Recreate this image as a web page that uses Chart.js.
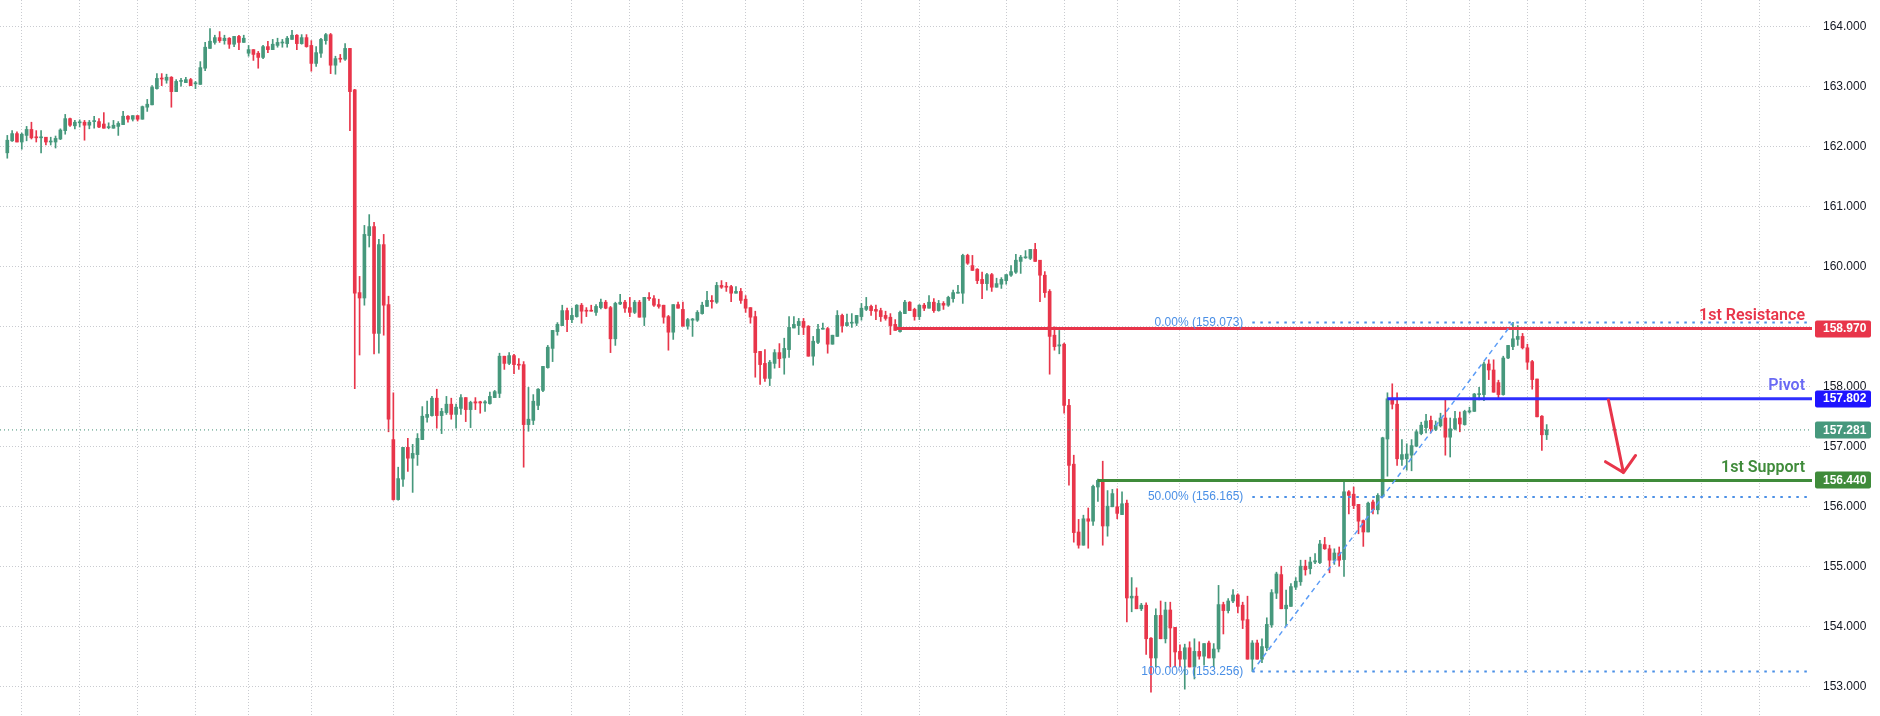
<!DOCTYPE html>
<html><head><meta charset="utf-8">
<script src="https://cdn.jsdelivr.net/npm/chart.js@4.4.1/dist/chart.umd.min.js"></script>
<style>html,body{margin:0;padding:0;background:#fff;}canvas{display:block}</style>
</head><body>
<canvas id="c" width="1880" height="716"></canvas>
<script>
const opens = [
161.90,162.10,162.22,162.08,162.19,162.29,162.16,162.15,162.16,162.08,
162.08,162.13,162.27,162.47,162.35,162.40,162.41,162.36,162.42,162.42,
162.38,162.32,162.31,162.34,162.37,162.51,162.46,162.52,162.46,162.66,
162.70,162.97,163.14,163.11,163.16,162.92,163.09,163.07,163.12,163.05,
163.04,163.31,163.64,163.74,163.82,163.77,163.81,163.71,163.84,163.74,
163.56,163.62,163.56,163.49,163.67,163.62,163.69,163.73,163.72,163.79,
163.86,163.72,163.82,163.69,163.39,163.56,163.77,163.87,163.36,163.47,
163.46,163.64,162.95,159.57,159.48,160.52,160.67,158.89,160.37,159.37,
157.12,156.12,156.46,156.99,156.81,156.87,157.12,157.49,157.52,157.81,
157.52,157.57,157.71,157.54,157.64,157.82,157.62,157.75,157.75,157.73,
157.72,157.82,157.89,158.51,158.39,158.52,158.37,158.37,157.37,157.44,
157.69,157.94,158.32,158.64,158.92,159.02,159.27,159.12,159.17,159.36,
159.27,159.27,159.24,159.32,159.41,159.32,158.80,159.38,159.41,159.32,
159.24,159.41,159.16,159.49,159.47,159.37,159.36,159.17,158.91,159.37,
159.29,159.01,159.11,159.11,159.22,159.34,159.44,159.41,159.69,159.67,
159.67,159.56,159.59,159.46,159.32,159.17,158.59,158.39,158.14,158.39,
158.57,158.48,158.62,158.98,159.02,159.09,159.01,158.51,158.74,158.96,
158.97,158.71,158.84,159.19,159.02,159.06,159.06,159.17,159.29,159.34,
159.29,159.27,159.19,159.16,159.04,158.92,159.22,159.41,159.29,159.17,
159.36,159.31,159.41,159.27,159.39,159.36,159.47,159.56,159.56,160.19,
160.02,159.96,159.79,159.72,159.87,159.66,159.71,159.77,159.86,159.91,
160.09,160.15,160.14,160.29,160.11,159.86,159.59,158.86,158.68,158.71,
157.69,156.71,155.58,155.36,155.80,155.76,156.33,156.44,155.68,156.00,
156.00,155.87,156.06,154.48,154.51,154.30,154.36,153.81,153.48,154.19,
153.80,154.28,153.99,153.59,153.46,153.65,153.33,153.59,153.51,153.73,
153.48,153.63,154.37,154.27,154.43,154.53,154.36,154.12,153.46,153.73,
153.46,153.65,154.03,154.56,154.87,154.30,154.34,154.66,154.75,155.01,
154.97,155.08,155.07,155.37,155.30,155.11,155.23,155.12,156.25,156.21,
156.04,155.77,155.58,156.08,155.95,156.17,157.13,157.80,157.71,156.79,
156.80,156.86,157.01,157.22,157.32,157.44,157.29,157.35,157.48,157.16,
157.30,157.48,157.37,157.58,157.59,157.87,157.87,158.38,158.28,158.07,
157.87,158.48,158.67,158.79,158.84,158.65,158.42,158.13,157.51,157.20];
const highs = [
162.19,162.27,162.25,162.23,162.34,162.41,162.27,162.27,162.16,162.16,
162.18,162.30,162.54,162.48,162.44,162.45,162.44,162.44,162.51,162.47,
162.57,162.40,162.44,162.42,162.59,162.52,162.52,162.52,162.68,162.79,
163.02,163.22,163.22,163.21,163.17,163.12,163.14,163.16,163.14,163.09,
163.42,163.74,163.97,163.86,163.92,163.86,163.82,163.84,163.86,163.86,
163.69,163.62,163.59,163.69,163.76,163.79,163.81,163.79,163.84,163.94,
163.87,163.87,163.87,163.77,163.67,163.81,163.89,163.89,163.51,163.54,
163.72,163.64,162.96,159.84,160.69,160.87,160.74,160.46,160.54,159.51,
157.90,156.66,156.99,157.14,157.04,157.22,157.67,157.76,157.84,157.96,
157.64,157.84,157.81,157.71,157.87,157.82,157.76,157.82,157.76,157.77,
157.91,157.94,158.56,158.51,158.57,158.54,158.47,158.42,157.99,157.87,
157.97,158.34,158.69,158.94,159.07,159.36,159.31,159.31,159.37,159.39,
159.32,159.36,159.37,159.46,159.44,159.34,159.41,159.54,159.44,159.49,
159.44,159.44,159.49,159.57,159.52,159.46,159.36,159.19,159.37,159.41,
159.41,159.14,159.14,159.27,159.41,159.59,159.52,159.74,159.77,159.74,
159.69,159.67,159.64,159.52,159.32,159.26,158.59,158.62,158.44,158.62,
158.72,158.81,159.17,159.17,159.14,159.14,159.02,158.84,159.04,159.06,
158.99,158.86,159.27,159.21,159.21,159.22,159.19,159.39,159.49,159.36,
159.36,159.31,159.26,159.22,159.12,159.26,159.44,159.42,159.31,159.37,
159.39,159.52,159.47,159.44,159.42,159.51,159.61,159.69,160.21,160.21,
160.19,159.97,159.91,159.89,159.89,159.81,159.82,159.87,160.02,160.21,
160.19,160.27,160.29,160.39,160.11,159.92,159.62,159.00,158.94,158.73,
157.79,156.86,155.79,155.86,155.98,156.36,156.46,156.76,156.27,156.29,
156.30,156.25,156.11,154.82,154.65,154.39,154.40,153.82,154.30,154.43,
154.41,154.41,153.99,153.70,153.71,153.75,153.80,153.75,153.72,153.76,
153.72,154.69,154.41,154.47,154.62,154.55,154.41,154.51,153.77,153.78,
153.80,154.15,154.62,154.91,155.01,154.61,154.72,154.82,155.11,155.11,
155.16,155.22,155.44,155.49,155.36,155.30,155.33,156.41,156.27,156.33,
156.04,155.78,156.08,156.11,156.22,157.16,157.90,158.05,157.90,157.12,
157.05,157.12,157.28,157.41,157.54,157.51,157.43,157.56,157.78,157.48,
157.59,157.58,157.61,157.66,157.89,157.99,158.41,158.45,158.45,158.11,
158.51,158.69,159.073,159.02,158.89,158.71,158.44,158.13,157.52,157.37];
const lows = [
161.81,162.09,162.08,161.96,162.10,162.13,162.08,161.90,162.03,162.03,
161.98,162.12,162.21,162.34,162.30,162.33,162.11,162.30,162.31,162.32,
162.31,162.30,162.31,162.19,162.37,162.41,162.43,162.43,162.46,162.59,
162.70,162.96,163.02,163.06,162.66,162.92,163.01,163.07,163.02,162.97,
163.04,163.27,163.64,163.71,163.74,163.71,163.64,163.67,163.62,163.74,
163.51,163.44,163.31,163.47,163.57,163.62,163.66,163.66,163.66,163.79,
163.62,163.71,163.66,163.26,163.34,163.49,163.71,163.22,163.21,163.41,
163.44,162.27,157.97,158.53,159.36,160.33,158.55,158.56,158.86,157.25,
156.11,156.11,156.34,156.59,156.24,156.69,157.12,157.41,157.51,157.31,
157.22,157.54,157.46,157.31,157.54,157.42,157.32,157.62,157.56,157.59,
157.71,157.82,157.82,158.29,158.37,158.22,158.29,156.66,157.26,157.37,
157.62,157.92,158.31,158.42,158.86,159.02,158.92,159.07,159.16,159.06,
159.17,159.26,159.19,159.30,159.30,158.57,158.69,159.37,159.24,159.17,
159.22,159.16,159.02,159.44,159.34,159.31,159.06,158.61,158.79,159.31,
159.01,158.96,158.84,159.09,159.21,159.34,159.31,159.39,159.64,159.59,
159.42,159.56,159.39,159.24,159.06,158.16,158.04,158.09,158.02,158.31,
158.32,158.21,158.49,158.98,158.87,158.87,158.51,158.36,158.72,158.96,
158.56,158.71,158.84,158.91,159.01,158.99,159.02,159.11,159.27,159.19,
159.12,159.09,159.11,158.87,158.94,158.91,159.22,159.27,159.11,159.12,
159.27,159.31,159.24,159.26,159.29,159.34,159.41,159.56,159.39,160.04,
159.94,159.72,159.47,159.61,159.59,159.66,159.64,159.71,159.84,159.89,
159.89,160.14,160.12,160.09,159.42,159.49,158.21,158.61,158.55,157.56,
156.36,155.41,155.31,155.36,155.31,155.69,156.09,155.36,155.51,156.00,
155.80,155.87,154.08,154.25,154.30,154.27,153.54,152.91,153.33,153.80,
153.73,153.33,153.33,153.33,152.96,153.33,153.13,153.46,153.36,153.48,
153.33,153.58,153.88,154.23,154.40,154.23,153.97,153.46,153.256,153.46,
153.40,153.60,153.99,154.47,154.30,154.02,154.34,154.62,154.69,154.86,
154.88,155.05,155.05,155.29,154.90,155.04,155.01,154.84,155.88,155.97,
155.55,155.34,155.58,155.88,155.88,156.16,156.51,157.63,156.69,156.69,
156.61,156.60,157.00,157.20,157.23,157.23,157.27,157.33,156.86,156.83,
157.28,157.25,157.36,157.56,157.59,157.78,157.77,158.12,157.91,157.79,
157.86,158.47,158.62,158.69,158.63,158.29,157.96,157.50,156.94,157.12];
const closes = [
162.11,162.22,162.08,162.21,162.29,162.15,162.15,162.16,162.08,162.09,
162.14,162.28,162.47,162.36,162.41,162.41,162.36,162.41,162.43,162.33,
162.31,162.33,162.36,162.39,162.51,162.46,162.52,162.46,162.67,162.71,
162.99,163.14,163.13,163.16,162.92,163.09,163.10,163.12,163.02,163.06,
163.32,163.66,163.76,163.82,163.77,163.81,163.71,163.84,163.74,163.81,
163.62,163.54,163.49,163.67,163.62,163.71,163.74,163.74,163.81,163.86,
163.72,163.82,163.67,163.39,163.57,163.79,163.87,163.36,163.47,163.46,
163.64,162.92,159.56,159.48,160.54,160.67,158.89,160.37,159.36,157.46,
156.12,156.47,156.99,156.81,156.89,157.14,157.51,157.54,157.81,157.52,
157.59,157.71,157.54,157.66,157.82,157.62,157.74,157.73,157.73,157.75,
157.84,157.92,158.51,158.39,158.52,158.37,158.36,157.37,157.46,157.76,
157.96,158.34,158.66,158.94,159.04,159.27,159.12,159.19,159.36,159.26,
159.26,159.26,159.34,159.41,159.31,158.80,159.39,159.41,159.31,159.24,
159.41,159.16,159.49,159.47,159.36,159.34,159.16,158.91,159.37,159.31,
159.01,159.12,159.13,159.24,159.36,159.44,159.42,159.69,159.66,159.66,
159.56,159.59,159.44,159.31,159.16,158.57,158.37,158.14,158.41,158.57,
158.47,158.64,158.99,159.04,159.09,158.99,158.51,158.76,158.96,158.97,
158.71,158.86,159.19,159.02,159.07,159.07,159.19,159.31,159.34,159.27,
159.26,159.17,159.14,159.02,158.94,159.24,159.41,159.27,159.17,159.36,
159.31,159.41,159.27,159.39,159.36,159.49,159.57,159.57,160.19,160.06,
159.94,159.77,159.72,159.87,159.66,159.72,159.79,159.87,159.92,160.11,
160.16,160.16,160.29,160.09,159.86,159.57,158.84,158.67,158.70,157.69,
156.69,155.57,155.36,155.80,155.76,156.34,156.44,155.68,156.01,156.22,
155.89,156.05,154.48,154.51,154.30,154.36,153.80,153.48,154.19,153.80,
154.28,153.98,153.58,153.46,153.65,153.33,153.59,153.51,153.72,153.48,
153.63,154.37,154.27,154.43,154.53,154.34,154.11,153.46,153.73,153.46,
153.67,154.04,154.57,154.88,154.30,154.36,154.67,154.76,155.01,154.95,
155.08,155.10,155.38,155.30,155.11,155.23,155.11,156.25,156.19,156.02,
155.76,155.58,156.06,155.95,156.19,157.15,157.80,157.71,156.80,156.87,
156.88,157.02,157.25,157.36,157.43,157.30,157.36,157.48,157.16,157.30,
157.47,157.38,157.59,157.60,157.88,157.88,158.38,158.28,157.91,157.87,
158.48,158.69,158.80,158.84,158.65,158.41,158.12,157.50,157.20,157.281];

const yTickValues = [153,154,155,156,157,158,159,160,161,162,163,164];
const gridBars = [3,15,27,39,50,63,80,93,105,117,129,140,153,165,177,189,207,219,230,243,255,267,279,290,303,315,327,339,351,363];

const levelNames  = ['1st Resistance','Pivot','1st Support'];
const levelValues = [158.970,157.802,156.440];
const levelStartBar = [184,286,226];

const fibNames  = ['0.00%','50.00%','100.00%'];
const fibValues = [159.073,156.165,153.256];
const fibStartBar = 258;
const trendBars = [258,312];
const trendValues = [153.256,159.073];

const lastPrice = 157.281;
const arrowBars = [331.8,334.9];
const arrowValues = [157.78,156.57];

const X_MIN = -1.513, X_MAX = 373.98, Y_MIN = 152.513, Y_MAX = 164.447;
const GREEN = '#46987c', RED = '#e8354a';
const LEVEL_LINE = ['#e8354a','#2f2fff','#3f8b3a'];
const LEVEL_TEXT = ['#e8354a','#6a6af4','#3f8b3a'];
const LEVEL_BOX  = ['#e8354a','#1e14ff','#3f8b3a'];
const PRICE_BOX = '#46987c';
const FIB = '#4a8fe6';
const GRID = '#c9cbd0';

const bars = opens.map((_, i) => i);
const upOf = i => closes[i] >= opens[i];
const colorOf = ctx => upOf(ctx.dataIndex) ? GREEN : RED;

const lineDs = (pts, color, width, dash) => ({
  type: 'line', data: pts, borderColor: color, borderWidth: width, borderDash: dash || [],
  pointRadius: 0, fill: false, tension: 0, order: 0, parsing: false
});

const datasets = [];
datasets.push(lineDs([{x: X_MIN, y: lastPrice}, {x: X_MAX, y: lastPrice}], '#3f8f74', 1, [1, 3]));
fibValues.forEach(v => datasets.push(lineDs([{x: fibStartBar, y: v}, {x: X_MAX, y: v}], FIB, 2, [2.5, 5.5])));
datasets.push(lineDs([{x: trendBars[0], y: trendValues[0]}, {x: trendBars[1], y: trendValues[1]}], '#5b9cf6', 1.5, [5, 4]));
levelValues.forEach((v, k) => datasets.push(lineDs([{x: levelStartBar[k], y: v}, {x: X_MAX, y: v}], LEVEL_LINE[k], 3)));
datasets.push({
  type: 'bar', data: bars.map(i => ({x: i, y: [opens[i], closes[i]]})),
  backgroundColor: colorOf, barThickness: 3, minBarLength: 1, grouped: false, order: 5, borderWidth: 0
});
datasets.push({
  type: 'bar', data: bars.map(i => ({x: i, y: [lows[i], highs[i]]})),
  backgroundColor: colorOf, barThickness: 1, minBarLength: 1, grouped: false, order: 6, borderWidth: 0
});

const annot = {
  id: 'annot',
  afterDatasetsDraw(chart) {
    const {ctx, chartArea: a, scales: {x, y}} = chart;
    ctx.save();
    ctx.font = '12px "Liberation Sans", Arial, sans-serif';
    ctx.fillStyle = FIB; ctx.textAlign = 'right'; ctx.textBaseline = 'middle';
    fibNames.forEach((n, k) => {
      ctx.fillText(n + ' (' + fibValues[k].toFixed(3) + ')', x.getPixelForValue(fibStartBar) - 9, y.getPixelForValue(fibValues[k]));
    });
    ctx.font = '600 16px Roboto, "Liberation Sans", sans-serif';
    ctx.textBaseline = 'alphabetic';
    levelNames.forEach((n, k) => {
      ctx.fillStyle = LEVEL_TEXT[k];
      ctx.fillText(n, a.right - 7, y.getPixelForValue(levelValues[k]) - 8.5);
    });
    const x0 = x.getPixelForValue(arrowBars[0]), y0 = y.getPixelForValue(arrowValues[0]);
    const x1 = x.getPixelForValue(arrowBars[1]), y1 = y.getPixelForValue(arrowValues[1]);
    const ang = Math.atan2(y1 - y0, x1 - x0), L = 21, sp = 47 * Math.PI / 180;
    ctx.strokeStyle = RED; ctx.lineWidth = 3; ctx.lineCap = 'round'; ctx.lineJoin = 'round';
    ctx.beginPath();
    ctx.moveTo(x0, y0); ctx.lineTo(x1, y1);
    ctx.moveTo(x1 - L * Math.cos(ang - sp), y1 - L * Math.sin(ang - sp));
    ctx.lineTo(x1, y1);
    ctx.lineTo(x1 - L * Math.cos(ang + sp), y1 - L * Math.sin(ang + sp));
    ctx.stroke();
    ctx.restore();
  },
  afterDraw(chart) {
    const {ctx, chartArea: a, scales: {y}} = chart;
    ctx.save();
    const box = (v, bg) => {
      const cy = y.getPixelForValue(v);
      ctx.fillStyle = bg;
      ctx.beginPath();
      ctx.roundRect(a.right + 3, Math.round(cy) - 8.5, 56, 17, 2);
      ctx.fill();
      ctx.fillStyle = '#ffffff';
      ctx.font = '600 12px "Liberation Sans", Arial, sans-serif';
      ctx.textAlign = 'left'; ctx.textBaseline = 'middle';
      ctx.fillText(v.toFixed(3), a.right + 11, cy + 0.5);
    };
    box(levelValues[0], LEVEL_BOX[0]);
    box(levelValues[1], LEVEL_BOX[1]);
    box(lastPrice, PRICE_BOX);
    box(levelValues[2], LEVEL_BOX[2]);
    ctx.restore();
  }
};

new Chart(document.getElementById('c'), {
  type: 'bar',
  data: {datasets},
  options: {
    responsive: false, animation: false, devicePixelRatio: 1,
    layout: {padding: 0},
    plugins: {legend: {display: false}, tooltip: {enabled: false}},
    scales: {
      x: {
        type: 'linear', min: X_MIN, max: X_MAX, offset: false,
        afterBuildTicks: s => { s.ticks = gridBars.map(v => ({value: v})); },
        ticks: {display: false},
        grid: {color: GRID, drawTicks: false, offset: false, lineWidth: 1},
        border: {display: false, dash: [1, 2]},
        afterFit: s => { s.height = 0; s.paddingLeft = 0; s.paddingRight = 0; }
      },
      y: {
        type: 'linear', position: 'right', min: Y_MIN, max: Y_MAX,
        afterBuildTicks: s => { s.ticks = yTickValues.map(v => ({value: v})); },
        ticks: {callback: v => Number(v).toFixed(3), padding: 11, color: '#131722', autoSkip: false,
                font: {family: '"Liberation Sans", Arial, sans-serif', size: 12}},
        grid: {color: GRID, drawTicks: false, lineWidth: 1},
        border: {display: false, dash: [1, 2]},
        afterFit: s => { s.width = 68; s.paddingTop = 0; s.paddingBottom = 0; }
      }
    }
  },
  plugins: [annot]
});
</script>
</body></html>
